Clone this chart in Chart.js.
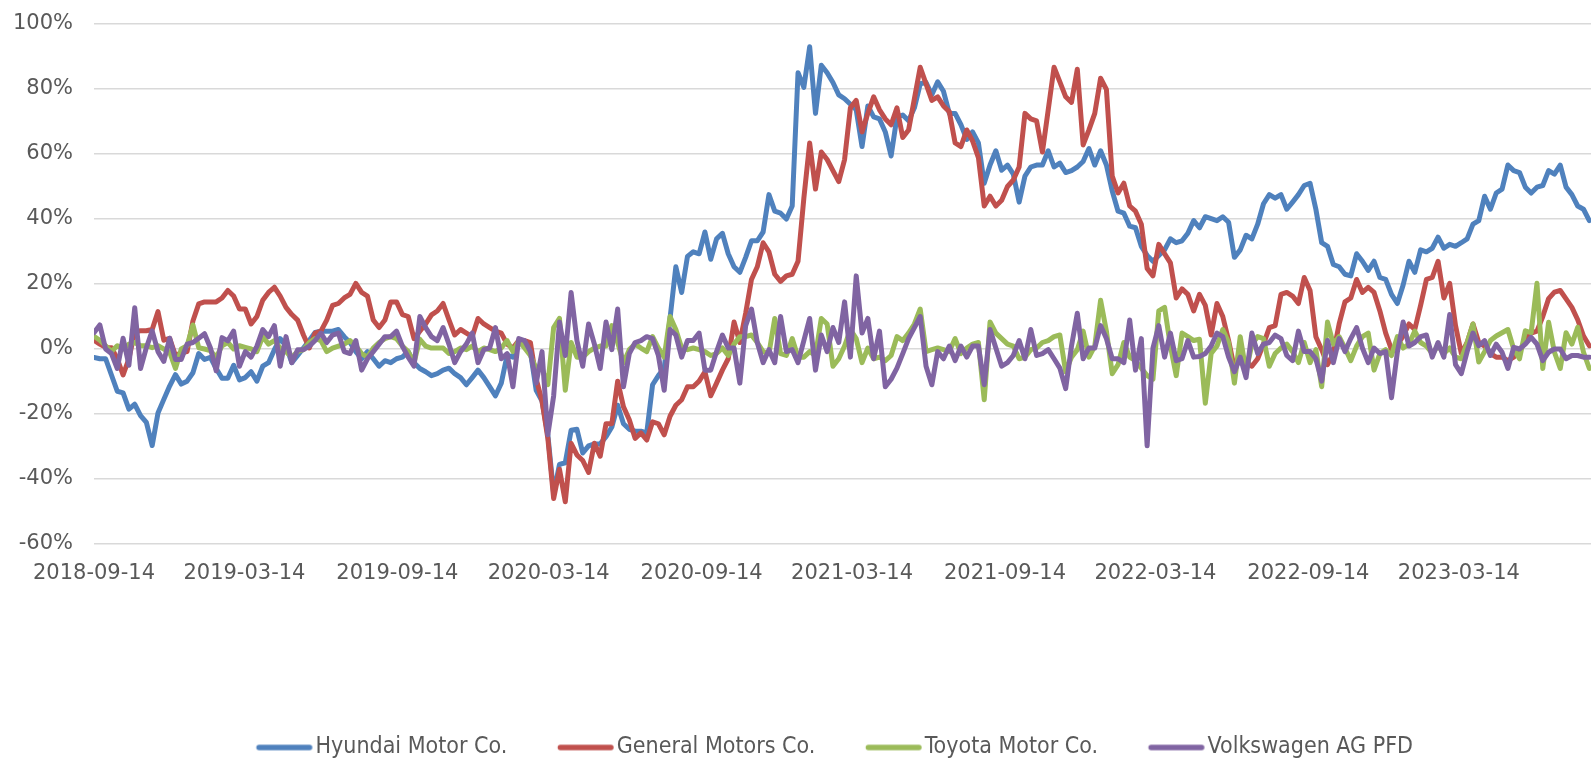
<!DOCTYPE html>
<html>
<head>
<meta charset="utf-8">
<title>Weekly returns</title>
<script src="https://cdn.jsdelivr.net/npm/chart.js@4"></script>
<style>
  html, body { margin: 0; padding: 0; background: #fff; }
  #wrap { width: 1591px; height: 759px; }
</style>
</head>
<body>
<div id="wrap"><canvas id="myChart"></canvas></div>
<script>
'use strict';

let startDate = '2018-09-14';

let tickLabels = ['2018-09-14', '2019-03-14', '2019-09-14', '2020-03-14', '2020-09-14',
  '2021-03-14', '2021-09-14', '2022-03-14', '2022-09-14', '2023-03-14'];

let seriesNames = ['Hyundai Motor Co.', 'General Motors Co.', 'Toyota Motor Co.', 'Volkswagen AG PFD'];

// weekly values in %, one per week from startDate
let hyundai = [
  -2.6, -3, -3, -8, -13, -13.5, -18.5, -17, -20.5, -22.6,
  -29.7, -19.7, -15.5, -11.4, -7.9, -10.8, -9.9, -7.3, -1.4, -3.2,
  -2.6, -6, -9, -9, -5, -9.5, -8.8, -7, -9.9, -5.3,
  -4.2, -0.2, 3.2, 0.9, -4.2, -2, 0.3, 2.6, 5.1, 5.5,
  5.5, 5.5, 6, 3.8, 2, -0.8, -3, -0.8, -3, -5.3,
  -3.6, -4.2, -3, -2.5, -0.8, -4.2, -6, -7, -8.2, -7.6,
  -6.5, -5.9, -7.6, -8.8, -11, -8.8, -6.5, -8.8, -11.6, -14.4,
  -10.5, -1.9, -2.5, 2.6, 1.5, -0.8, -12.7, -16, -26.4, -44.5,
  -35.5, -35, -25, -24.7, -32, -29.8, -29.2, -29.2, -27, -24,
  -17.3, -23, -24.7, -25.3, -25.3, -25.8, -11, -8.2, -5.9, 9.4,
  25.3, 17.4, 28.5, 29.9, 29.3, 36, 27.6, 33.9, 35.6, 29.3,
  25.3, 23.6, 28.2, 33.3, 33.3, 36, 47.5, 42.4, 41.8, 40,
  44, 85, 80.5, 93, 72.5, 87.3, 85, 82, 78.2, 77,
  75.3, 73.6, 62.3, 74.8, 71.4, 70.8, 66.8, 59.4, 71.4, 72,
  70.2, 74.2, 81.6, 82, 78.2, 82.2, 79.3, 72.5, 72.5, 69,
  64.5, 66.8, 63.4, 51, 56.6, 61, 55, 56.6, 53.8, 45.2,
  53.2, 56, 56.6, 56.6, 61, 56, 57.2, 54.3, 54.9, 56,
  57.7, 61.7, 56.6, 61, 56.6, 48.6, 42.4, 41.8, 37.8, 37.3,
  31.6, 28.8, 27, 28.8, 30.5, 33.9, 32.7, 33.3, 35.6, 39.5,
  37.3, 40.7, 40.1, 39.5, 40.7, 39, 28.2, 30.5, 35, 33.9,
  38.4, 44.7, 47.5, 46.4, 47.5, 43, 45.2, 47.5, 50.3, 51,
  43, 32.7, 31.6, 26, 25.3, 23, 22.5, 29.3, 27, 24.2,
  27, 22, 21.4, 16.8, 14, 19.7, 27, 23.6, 30.5, 29.9,
  31, 34.4, 31, 32.2, 31.6, 32.7, 33.9, 38.4, 39.5, 47,
  43, 48, 49.2, 56.6, 54.9, 54.3, 49.8, 48, 49.8, 50.3,
  54.9, 53.8, 56.6, 49.8, 47.5, 44, 43, 39.5
];

let generalMotors = [
  2.7, 1.5, 0.5, 0.4, -3, -8, -3, 5.4, 5.6, 5.6,
  6, 11.5, 2.7, 3.3, -2, -1.2, -0.8, 8.6, 13.9, 14.5,
  14.5, 14.5, 15.7, 18, 16.3, 12.3, 12.3, 7.7, 10, 15,
  17.4, 19, 16.3, 12.8, 10.6, 8.9, 4.3, 0.3, 4.9, 5.5,
  8.9, 13.4, 14, 15.7, 16.8, 20.2, 17.4, 16.3, 8.9, 6.6,
  8.9, 14.5, 14.5, 10.6, 10, 3.2, 5.5, 7.7, 10.5, 11.7,
  14, 9, 4.3, 6, 4.9, 3.8, 9.4, 7.7, 6.6, 5.5,
  4.9, 1.5, 0.3, 2.6, 2.6, 2, -9.3, -16, -27.5, -46,
  -37, -47, -29, -32.6, -34.3, -38, -29, -33, -23, -23,
  -9.9, -17.8, -21.8, -27.5, -25.8, -28, -22.4, -23, -26.4, -20.7,
  -17.3, -15.6, -11.6, -11.6, -9.9, -7, -14.4, -10.5, -6.5, -3,
  8.3, 2, 11, 21.4, 25.3, 32.7, 29.9, 23, 20.8, 22.5,
  23, 27, 46.4, 63.4, 49.2, 60.6, 58.3, 54.9, 51.5, 58.3,
  74.2, 76.5, 66.8, 72.5, 77.6, 73.6, 70.8, 69, 74.2, 65.1,
  67.4, 77, 86.7, 81.6, 76.5, 77.6, 74.8, 73, 63.4, 62.3,
  67.4, 64, 58.9, 44, 47, 44, 45.8, 50, 52, 56,
  72.5, 70.8, 70.2, 60.6, 73.6, 86.7, 82.2, 77.6, 75.9, 86.1,
  62.8, 67.4, 72.5, 83.3, 79.9, 53.2, 48, 51, 44, 42.4,
  38.4, 24.8, 22.5, 32.2, 29.3, 26.5, 15.7, 18.5, 16.8, 11.7,
  16.8, 13.4, 4.3, 14, 10, 2.6, -6, -3, -4, -5.3,
  -3, 1.5, 6.6, 7.2, 16.8, 17.4, 16.3, 14, 22, 18,
  3.8, -0.2, -4.8, -1.4, 7.7, 14.5, 15.7, 21.4, 17.4, 19,
  17.4, 11.7, 4.9, -0.2, 1.2, 4, 7.7, 6, 13.4, 21.4,
  22, 27, 15.7, 20.2, 7.2, -1.4, 2, 7.7, 2, 0.9,
  -1.4, -2.5, -2.5, -3.6, -2.5, -0.8, 2.6, 4.9, 5.5, 10,
  15.5, 17.5, 18, 15.4, 12.8, 9, 4, 1
];

let toyota = [
  3.9, 2.7, 1, -0.8, 1, 0, 1.5, 2, 1, 1,
  0.4, 1, 0, -1, -6, 0, 1, 7.4, 0.4, 0,
  -0.5, -2.6, 1, 2, 0, 1, 0.5, 0, -0.8, 3.8,
  1.5, 2.6, 0.3, -0.8, -2.5, -0.8, -0.2, 2, 3.2, 2.6,
  -0.8, 0.3, 0.9, 1.5, 2.6, 0.9, -1.4, -2.5, 0.3, 2,
  3.2, 3.8, 3.2, 0.9, -0.8, -4.2, 3, 0.9, 0.3, 0.3,
  0.3, -1.4, -0.8, 0.3, -0.2, 0.9, -0.8, 0.3, -0.2, -0.8,
  0.3, 2.6, -0.8, 2.6, 0.3, -2, -6, -6, -11, 6.6,
  9.4, -12.7, 2, -2.5, -2.5, -0.8, 0.3, 0.9, 0.9, 7.2,
  2, -4.2, -0.2, 1.5, 0.3, -0.8, 3.8, 0.3, -2.5, 10,
  6, 0.3, -0.2, 0.3, -0.2, -0.8, -2, -1.4, 0.3, -2,
  1.5, 3.8, 3.8, 4.3, 2, -0.8, -1.4, 9.4, -1.4, -2,
  3.2, -2.5, -2.5, -0.8, -2, 9.4, 7.7, -5.3, -3, 0.9,
  6, 3.2, -4.2, 0.3, -3, -2.5, -3.6, -2, 3.8, 2.6,
  4.9, 7.7, 12.3, -0.8, -0.2, 0.3, -0.2, -0.8, 3.2, -1.4,
  0.3, 1.5, 2, -15.6, 8.3, 4.9, 3.2, 1.5, 0.9, -3,
  -2.5, -0.2, 0.3, 2, 2.6, 3.8, 4.3, -7, -2.5, -0.2,
  5.5, -2.5, 0.9, 15, 5.5, -7.6, -4.8, 2, -2.5, -3.6,
  -5.9, -8.2, -9.3, 11.7, 12.8, 0.9, -8.2, 4.9, 3.8, 2.6,
  3, -16.7, -1.4, 0.9, 6, 2, -10.5, 3.8, -7, 1.5,
  3.8, 3.2, -5.3, -1.4, 0.3, 1.5, -0.8, -4.2, 2, -4.2,
  -0.2, -11.6, 8.3, 1.5, 3.8, 0.3, -3.6, 0.9, 3.8, 4.9,
  -6.5, -1.4, -0.2, -2, 3.8, 0.3, 1.5, 5.5, 2, 0.9,
  -1.4, 0.9, -1.4, 0.3, -2.5, -3, 2, 7.7, -4, -0.8,
  2.6, 4, 5, 6, 0, -3, 5.6, 5, 20.2, -6,
  8.2, -1, -6, 5, 1.5, 6.7, -1, -6
];

let volkswagen = [
  5, 7.4, 0, -1.4, -6, 3.3, -5, 12.7, -6, 0.4,
  5.6, -0.8, -3.8, 3.3, -3.2, -3.2, 1.5, 2, 3.3, 4.7,
  0.4, -6.7, 3.5, 2.5, 5.5, -5.3, -0.8, -2.5, 0.9, 6,
  3.8, 7.2, -5.3, 3.8, -4.2, -0.2, -0.2, 0.9, 2.6, 4.9,
  2, 4.3, 4.9, -0.8, -1.4, 2.6, -6.5, -3, -0.8, 1.5,
  3.8, 3.8, 5.5, 0.9, -2.5, -5.3, 10, 6.6, 3.8, 2.6,
  6.6, 1.5, -4.2, -0.8, 1.5, 4.9, -4.2, -0.2, 0.3, 6.6,
  -3, -1.4, -11.6, 3.2, 2.6, -0.8, -10.5, -0.8, -26.4, -14.4,
  8.3, -2, 17.4, 2.6, -5.3, 7.7, 1.5, -6, 8.3, -0.2,
  12.3, -11.6, -1.4, 2, 2.6, 3.8, 3.2, -2, -12.7, 6,
  4.3, -2.5, 2.6, 2.6, 4.9, -6.5, -6.5, -0.8, 4.3, 0.3,
  0.3, -10.5, 7.2, 12.3, 2, -4.2, -0.2, -4.2, 10, -0.8,
  -0.2, -4.2, 2.6, 9.4, -6.5, 4.3, -0.8, 6.6, 2, 14.5,
  -2.5, 22.5, 4.9, 9.4, -3, 5.5, -11.6, -9.3, -5.9, -1.4,
  3.2, 6.6, 10, -5.3, -11, -0.8, -3, 0.9, -3.6, 0.9,
  -2.5, 0.9, 0.9, -11, 6, 0.3, -5.3, -4.2, -2, 2.6,
  -3, 6, -2, -1.4, -0.2, -3, -5.9, -12.2, 0.9, 11,
  -3, 0.3, 0.3, 7.2, 3.2, -3, -3, -4.2, 8.9, -6.5,
  3.2, -29.8, 0.3, 7.2, -2.5, 4.9, -3.6, -3, 2.6, -2.5,
  -2.3, -1.4, 0.9, 4.9, 3.8, -2.5, -7, -2.5, -8.8, 4.9,
  -1.4, 1.5, 2, 4.3, 3.2, -2, -3.6, 5.5, -0.8, -0.8,
  -3, -9.9, 2.6, -4.2, 3.2, -0.8, 3.2, 6.6, 0.3, -4.2,
  0.3, -1.4, -0.8, -15, -1, 8.3, 0.9, 2, 3.8, 4.3,
  -2.5, 2, -2.5, 10.6, -4.8, -7.6, -0.8, 4.9, 1, 2.6,
  -2, 1.5, -1, -6, 0.5, 0, 1.5, 3.6, 1.5, -3.6,
  -1, 0, 0, -3, -2, -2, -2.5, -2.5
];

let seriesColors = ['#4f81bd', '#c0504d', '#9bbb59', '#8064a2'];

function daysFromStart(dateText) {
  return (Date.parse(dateText) - Date.parse(startDate)) / 86400000;
}

// x positions in days since the first week
let weekDays = hyundai.map((value, i) => i * 7);
let tickDays = tickLabels.map(daysFromStart);

let textColor = '#595959';
let axisFont = { family: "'DejaVu Sans', sans-serif", size: 21 };
let legendFont = { family: "'DejaVu Sans Condensed', 'DejaVu Sans', sans-serif", size: 23 };
let legendBoxWidth = 48;

// legend sample: a short rounded line that ends just before the text
function legendLine(color) {
  let half = legendFont.size / 2;
  let canvas = document.createElement('canvas');
  canvas.width = legendBoxWidth + legendFont.size;
  canvas.height = 8;
  let g = canvas.getContext('2d');
  g.strokeStyle = color;
  g.lineWidth = 5.5;
  g.lineCap = 'round';
  g.beginPath();
  g.moveTo(half + 3, 4);
  g.lineTo(canvas.width - 6, 4);
  g.stroke();
  return canvas;
}

function makeDataset(index, values) {
  return {
    label: seriesNames[index],
    data: values,
    borderColor: seriesColors[index],
    backgroundColor: seriesColors[index],
    borderWidth: 5,
    borderCapStyle: 'round',
    borderJoinStyle: 'round',
    pointRadius: 0,
    pointStyle: legendLine(seriesColors[index]),
    tension: 0,
    // later series are painted on top, as in the original
    order: 4 - index
  };
}

// the legend row sits a little left of the plot centre
let legendNudge = {
  id: 'legendNudge',
  afterLayout(chart) {
    chart.legend.left -= 8;
    chart.legend.right -= 8;
  }
};

let ctx = document.getElementById('myChart').getContext('2d');
let myChart = new Chart(ctx, {
  type: 'line',
  data: {
    labels: weekDays,
    datasets: [
      makeDataset(0, hyundai),
      makeDataset(1, generalMotors),
      makeDataset(2, toyota),
      makeDataset(3, volkswagen)
    ]
  },
  plugins: [legendNudge],
  options: {
    responsive: true,
    maintainAspectRatio: false,
    animation: false,
    layout: {
      padding: { top: 24, right: 0, bottom: -10, left: 0 }
    },
    plugins: {
      tooltip: { enabled: false },
      legend: {
        position: 'bottom',
        fullSize: false,
        labels: {
          usePointStyle: true,
          pointStyleWidth: legendBoxWidth,
          padding: 50,
          color: textColor,
          font: legendFont,
          sort: (a, b) => a.datasetIndex - b.datasetIndex
        }
      }
    },
    scales: {
      x: {
        type: 'linear',
        min: 0,
        max: 1801,
        afterBuildTicks: (scale) => {
          scale.ticks = tickDays.map((d) => ({ value: d }));
        },
        afterFit: (scale) => {
          scale.height = 142;
        },
        ticks: {
          autoSkip: false,
          maxRotation: 0,
          padding: 9,
          color: textColor,
          font: axisFont,
          callback: (value, index) => tickLabels[index]
        },
        grid: { display: false },
        border: { display: false }
      },
      y: {
        min: -60,
        max: 100,
        afterFit: (scale) => {
          scale.width = 94;
        },
        ticks: {
          stepSize: 20,
          padding: 0,
          color: textColor,
          font: axisFont,
          callback: (value) => value + '%'
        },
        grid: {
          color: '#d9d9d9',
          lineWidth: 1.5,
          drawTicks: true,
          tickLength: 21,
          tickColor: 'rgba(0, 0, 0, 0)'
        },
        border: { display: false }
      }
    }
  }
});
</script>
</body>
</html>
